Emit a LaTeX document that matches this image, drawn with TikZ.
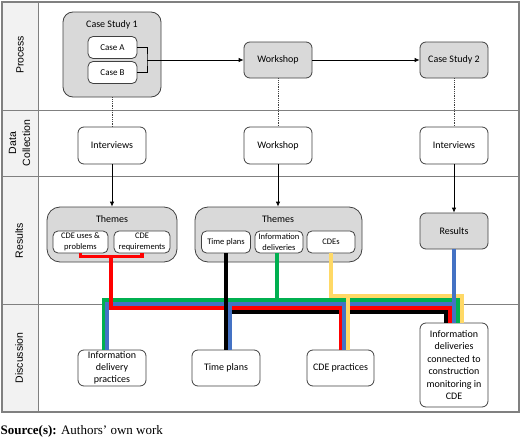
\documentclass[tikz,border=0pt]{standalone}
\usepackage{fontspec}
\setmainfont{Carlito}
\newfontfamily\lanefont{Liberation Sans}
\newfontfamily\srcfont{Liberation Serif}
\usetikzlibrary{arrows.meta,calc}
\definecolor{boxgray}{HTML}{D9D9D9}
\definecolor{lanegray}{HTML}{F2F2F2}
\definecolor{edgegray}{HTML}{404040}
\definecolor{framegray}{HTML}{808080}
\definecolor{cRed}{HTML}{FF0000}
\definecolor{cGreen}{HTML}{00B050}
\definecolor{cBlue}{HTML}{4472C4}
\definecolor{cYellow}{HTML}{FFD966}
\begin{document}
\begin{tikzpicture}[x=1pt,y=-1pt,
  wh/.style 2 args={minimum width=#1pt,minimum height=#2pt},
  box/.style={draw=edgegray, line width=0.8pt, rounded corners=6pt, fill=white,
    inner sep=0pt, align=center, font=\fontsize{10}{12.3}\selectfont},
  gbox/.style={box, fill=boxgray},
  sbox/.style={box, rounded corners=5pt, font=\fontsize{8.5}{10.5}\selectfont},
  cbox/.style={box, rounded corners=5pt, font=\fontsize{9}{11}\selectfont},
  ttl/.style={inner sep=0pt, font=\fontsize{10}{12}\selectfont},
  lane/.style={inner sep=0pt, rotate=90, align=center, font=\lanefont\fontsize{10.5}{14}\selectfont},
  frameline/.style={draw=framegray, line width=0.8pt},
  arr/.style={draw=black, line width=0.8pt, -{Latex[length=5pt,width=4.5pt]}},
  conn/.style={draw=black, line width=0.8pt},
  dotline/.style={draw=edgegray, line width=0.8pt, densely dotted},
  cline/.style={line width=3.6pt, line join=miter, line cap=butt},
  yline/.style={cline, draw=cYellow},
  gline/.style={cline, draw=cGreen},
  bline/.style={cline, draw=cBlue},
  rline/.style={cline, draw=cRed},
  kline/.style={cline, draw=black}
]
\useasboundingbox (0,0) rectangle (520,439);
% swimlane frame
\fill[lanegray] (2,2) rectangle (38,412);
\draw[frameline] (38,2) -- (38,412);
\draw[frameline] (2,110) -- (519,110);
\draw[frameline] (2,176) -- (519,176);
\draw[frameline] (2,304) -- (519,304);
\draw[framegray, line width=1.2pt] (2,2) rectangle (519,412);

% lane labels
\node[lane] (lp) at (20,55) {Process};
\node[lane] (ld) at (19.5,143) {Data\\Collection};
\node[lane] (lr) at (19,240.5) {Results};
\node[lane] (ldi) at (19,358) {Discussion};

% process lane
\node[gbox, wh={98}{85}, rounded corners=10pt] (cs1) at (112,54.5) {};
\node[ttl] (cs1t) at (112,24.5) {Case Study 1};
\node[cbox, wh={49}{22}] (caseA) at (112.5,47.5) {Case A};
\node[cbox, wh={49}{22}] (caseB) at (112.5,72.5) {Case B};
\coordinate (brk) at (147,60);
\node[gbox, wh={68}{36}] (ws1) at (278,60) {Workshop};
\node[gbox, wh={68}{36}] (cs2) at (454,60) {Case Study 2};

% data collection lane
\node[box, wh={68}{37}] (int1) at (112,145.5) {Interviews};
\node[box, wh={68}{37}] (ws2) at (278,145.5) {Workshop};
\node[box, wh={68}{37}] (int2) at (454,145.5) {Interviews};

% results lane
\node[gbox, wh={130}{55}, rounded corners=13pt] (th1) at (112,234.5) {};
\node[ttl] (th1t) at (112,219.5) {Themes};
\node[sbox, wh={55}{22}] (cdeu) at (80.5,242) {CDE uses \&\\problems};
\node[sbox, wh={56}{22}] (cder) at (142,242) {CDE\\requirements};
\node[gbox, wh={167}{55}, rounded corners=13pt] (th2) at (278.5,234.5) {};
\node[ttl] (th2t) at (278,219.5) {Themes};
\node[sbox, wh={49}{22}] (tp1) at (226,242) {Time plans};
\node[sbox, wh={48}{22}] (idl) at (279,242) {Information\\deliveries};
\node[sbox, wh={48}{22}] (cdes) at (331,242) {CDEs};
\node[gbox, wh={68}{36}] (res) at (454,231) {Results};

% discussion lane
\node[box, wh={68}{36}] (idp) at (112,368) {Information\\delivery\\practices};
\node[box, wh={68}{36}] (tp2) at (226,368) {Time plans};
\node[box, wh={67}{36}] (cdep) at (340.5,368) {CDE practices};
\node[box, wh={68}{84}, font=\fontsize{10}{12.5}\selectfont] (idc) at (454,365)
  {Information\\deliveries\\connected to\\construction\\monitoring in\\CDE};

% process connectors
\draw[conn] (caseA.east) -| (brk) |- (caseB.east);
\draw[arr] (brk) -- (ws1.west);
\draw[arr] (ws1.east) -- (cs2.west);
\draw[dotline] (cs1.south) -- (int1.north);
\draw[dotline] (ws1.south) -- (ws2.north);
\draw[dotline] (cs2.south) -- (int2.north);
\draw[arr] (int1.south) -- (th1.north -| int1.south);
\draw[arr] (ws2.south) -- (th2.north -| ws2.south);
\draw[arr] (int2.south) -- (res.north);

% colored bus
\coordinate (busY) at (0,296);
\coordinate (busG) at (0,300);
\coordinate (busB) at (0,304);
\coordinate (busR) at (0,308);
\coordinate (busK) at (0,312);
\coordinate (gL) at ($(idp.north)+(-8.5,0)$);
\coordinate (bL) at ($(idp.north)+(-5,0)$);
\coordinate (bT) at ($(tp2.north)+(4,0)$);
\coordinate (bC) at ($(cdep.north)+(3.75,0)$);
\coordinate (yC) at ($(cdep.north)+(7.5,0)$);
\coordinate (kR) at ($(idc.north)+(-8,0)$);
\coordinate (rR) at ($(idc.north)+(-4,0)$);
\coordinate (gR) at ($(idc.north)+(4,0)$);
\coordinate (yR) at ($(idc.north)+(8,0)$);
\coordinate (gT) at ($(idl.south)+(-2,0)$);
\coordinate (rdrop) at ($(cdeu.south)!0.5!(cder.south)+(0,3)$);

\draw[yline] (cdes.south) |- (yR |- busY) -- (yR);
\draw[gline] (gT) |- (gL |- busG) -- (gL);
\draw[gline] (gT |- busG) -| (gR);
\draw[bline] (res.south |- busB) -| (bL);
\draw[bline] (res.south) -- (idc.north);
\draw[rline] (cdeu.south) -- ++(0,3) -| (cder.south);
\draw[rline] (rdrop) |- (rR |- busR) -- (rR);
\draw[kline] (tp1.south) -- (tp2.north);
\draw[kline] (tp2.north |- busK) -| (kR);
\draw[bline] (bT |- busB) -- (bT);
\draw[rline] (cdep.north |- busR) -- (cdep.north);
\draw[bline] (bC |- busB) -- (bC);
\draw[yline] (yC |- busY) -- (yC);

% source
\node[anchor=west, inner sep=0pt, font=\srcfont\fontsize{13}{15}\selectfont] (src) at (0.5,431)
  {\textbf{Source(s):} Authors’ own work};
\end{tikzpicture}
\end{document}
